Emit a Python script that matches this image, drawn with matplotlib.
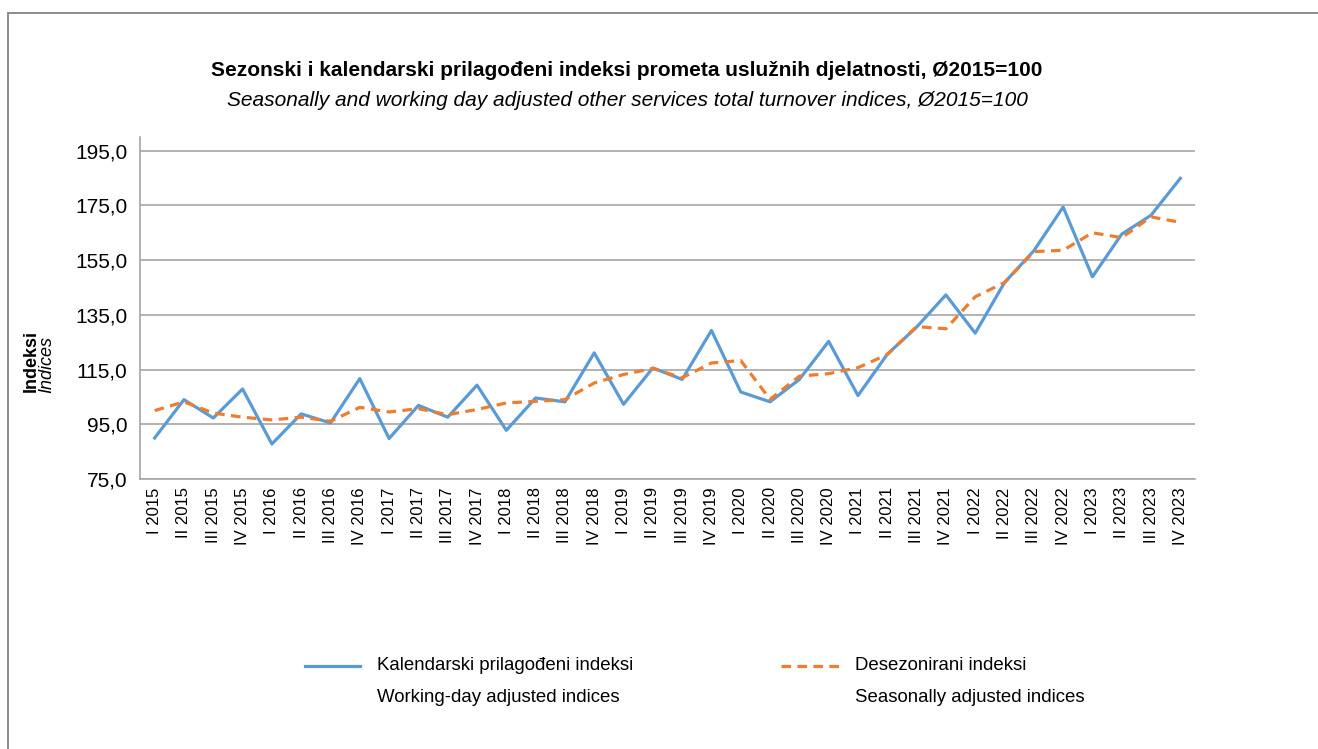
import matplotlib
matplotlib.use("Agg")
import matplotlib.pyplot as plt
from matplotlib.lines import Line2D

# quarters I 2015 .. IV 2023
quarters = ["I", "II", "III", "IV"]
years = list(range(2015, 2024))
labels = [f"{q} {y}" for y in years for q in quarters]

# Kalendarski prilagodjeni indeksi / Working-day adjusted indices
working_day = [90.0, 104.0, 97.3, 107.9, 87.8, 98.8, 95.5, 111.7,
               89.8, 101.9, 97.6, 109.3, 92.8, 104.6, 103.2, 121.1,
               102.3, 115.6, 111.4, 129.3, 106.8, 103.2, 111.4, 125.3,
               105.5, 120.6, 130.5, 142.3, 128.3, 146.8, 158.4, 174.4,
               148.9, 164.5, 171.4, 184.9]

# Desezonirani indeksi / Seasonally adjusted indices
seasonal = [100.0, 103.2, 99.1, 97.6, 96.6, 97.6, 96.1, 101.2,
            99.5, 100.7, 98.5, 100.4, 102.8, 103.4, 104.0, 110.1,
            113.2, 115.4, 112.0, 117.4, 118.3, 104.1, 112.6, 113.5,
            115.7, 120.5, 130.7, 129.9, 141.6, 146.8, 158.1, 158.6,
            165.0, 163.2, 170.8, 168.8]

yticks = [75, 95, 115, 135, 155, 175, 195]

plt.rcParams["font.family"] = ["Liberation Sans", "DejaVu Sans"]

BLUE = "#5B9BD5"
ORANGE = "#ED7D31"
GRID = "#A6A6A6"

W, H = 1318, 749
fig = plt.figure(figsize=(W / 100, H / 100), dpi=100)

# chart frame (only top and left edges visible in the crop)
fig.add_artist(Line2D([7.5 / W, 1], [1 - 13 / H] * 2, transform=fig.transFigure,
                      color="#8C8C8C", linewidth=1.4))
fig.add_artist(Line2D([7.5 / W] * 2, [0, 1 - 13 / H], transform=fig.transFigure,
                      color="#8C8C8C", linewidth=1.4))

ax = fig.add_axes([140 / W, 1 - 479 / H, (1195 - 140) / W, (479 - 137) / H])
x = list(range(len(labels)))
ax.plot(x, working_day, color=BLUE, linewidth=2.3)
ax.plot(x, seasonal, color=ORANGE, linewidth=2.3, linestyle=(0, (3, 2)))

ax.set_xlim(-0.5, len(labels) - 0.5)
ax.set_ylim(75, 200)
ax.set_yticks(yticks)
ax.set_yticklabels([f"{v:.1f}".replace(".", ",") for v in yticks], fontsize=15)
ax.set_xticks(x)
ax.set_xticklabels(labels, rotation=90, fontsize=12)
ax.tick_params(axis="both", length=0, pad=6)
ax.tick_params(axis="y", pad=9)
ax.grid(axis="y", color=GRID, linewidth=1.2)
ax.set_axisbelow(True)
for s in ["top", "right"]:
    ax.spines[s].set_visible(False)
for s in ["left", "bottom"]:
    ax.spines[s].set_color(GRID)
    ax.spines[s].set_linewidth(1.2)

# titles
fig.text(627 / W, 1 - 70 / H, "Sezonski i kalendarski prilagođeni indeksi prometa uslužnih djelatnosti, Ø2015=100",
         ha="center", va="center", fontsize=15, fontweight="bold")
fig.text(627 / W, 1 - 100 / H, "Seasonally and working day adjusted other services total turnover indices, Ø2015=100",
         ha="center", va="center", fontsize=15, style="italic")

# y label
fig.text(31 / W, 1 - 361 / H, "Indeksi", rotation=90, ha="center", va="center",
         fontsize=13, fontweight="bold")
fig.text(47 / W, 1 - 364 / H, "Indices", rotation=90, ha="center", va="center",
         fontsize=13, style="italic")

# legend
fig.add_artist(Line2D([305 / W, 360 / W], [1 - 666 / H] * 2, transform=fig.transFigure,
                      color=BLUE, linewidth=2.3))
fig.add_artist(Line2D([781 / W, 842 / W], [1 - 666 / H] * 2, transform=fig.transFigure,
                      color=ORANGE, linewidth=2.3, linestyle=(0, (3, 2))))
fig.text(377 / W, 1 - 666 / H, "Kalendarski prilagođeni indeksi", ha="left", va="center", fontsize=13.4)
fig.text(377 / W, 1 - 697 / H, "Working-day adjusted indices", ha="left", va="center", fontsize=13.4)
fig.text(855 / W, 1 - 666 / H, "Desezonirani indeksi", ha="left", va="center", fontsize=13.4)
fig.text(855 / W, 1 - 697 / H, "Seasonally adjusted indices", ha="left", va="center", fontsize=13.4)

fig.savefig("out.png", dpi=100)
